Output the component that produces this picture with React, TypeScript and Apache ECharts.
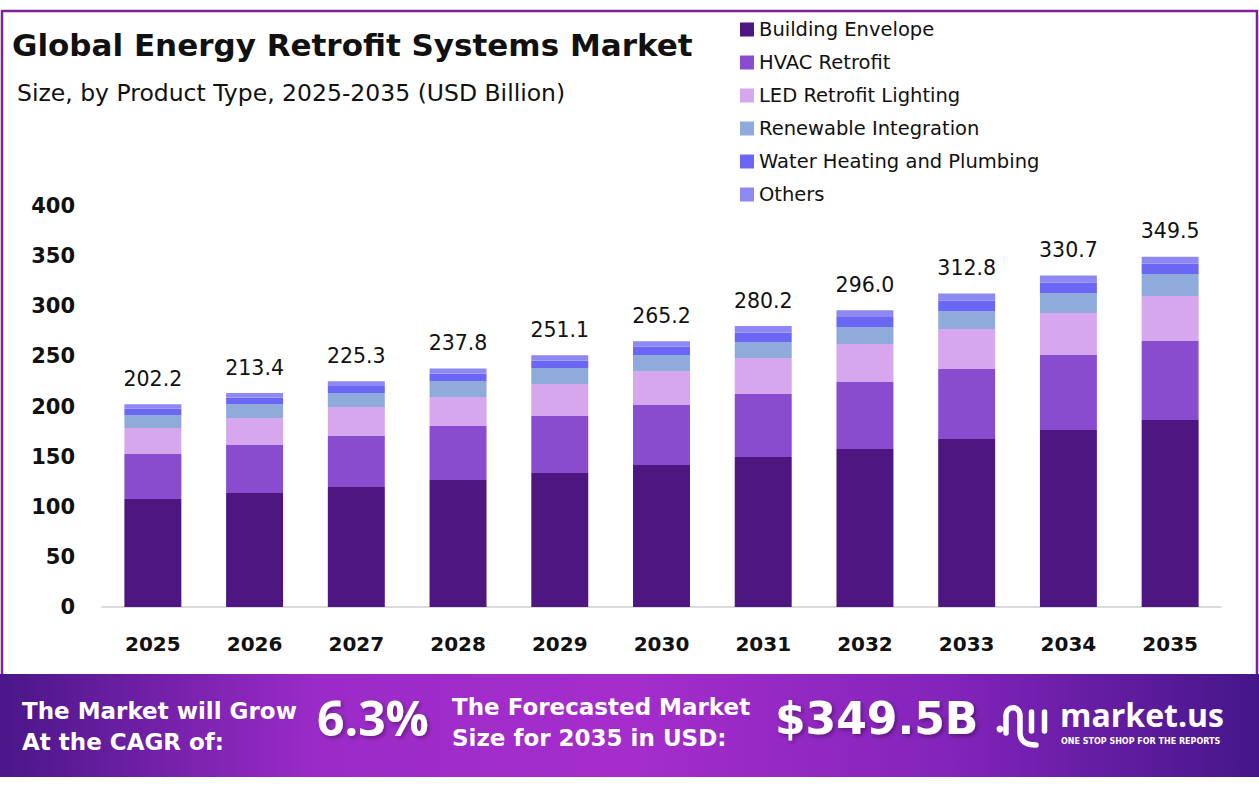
import React, { useEffect, useRef } from "react";
import * as echarts from "echarts";

const years = ["2025", "2026", "2027", "2028", "2029", "2030", "2031", "2032", "2033", "2034", "2035"];
const buildingEnvelope = [107.7, 113.7, 119.7, 126.7, 133.7, 141.6, 149.6, 157.6, 167.6, 176.6, 186.5];
const hvacRetrofit = [44.9, 47.9, 50.9, 53.8, 56.8, 59.9, 62.9, 66.8, 69.8, 74.8, 78.8];
const ledLighting = [26.0, 26.9, 28.9, 29.0, 31.9, 33.9, 35.9, 37.9, 39.9, 41.9, 44.9];
const renewableIntegration = [12.9, 14.0, 14.0, 15.9, 16.0, 16.0, 15.9, 17.0, 18.0, 19.9, 22.0];
const waterHeating = [6.4, 6.5, 7.0, 7.4, 7.6, 8.3, 9.5, 10.0, 10.5, 10.5, 10.3];
const others = [4.3, 4.4, 4.8, 5.0, 5.1, 5.5, 6.4, 6.7, 7.0, 7.0, 7.0];
const totals = [202.2, 213.4, 225.3, 237.8, 251.1, 265.2, 280.2, 296.0, 312.8, 330.7, 349.5];

const seriesNames = [
  "Building Envelope",
  "HVAC Retrofit",
  "LED Retrofit Lighting",
  "Renewable Integration",
  "Water Heating and Plumbing",
  "Others",
];
const seriesData = [buildingEnvelope, hvacRetrofit, ledLighting, renewableIntegration, waterHeating, others];
const colors = ["#4e1681", "#8a4ccf", "#d6a7ec", "#8fabdc", "#6c66f4", "#8e89f2"];

const cagrText = "6.3%";
const forecastText = "$349.5B";

const OPEN = "'Open Sans', sans-serif";
const DEJA = "'DejaVu Sans', sans-serif";

echarts.graphic.registerShape(
  "mlogo",
  echarts.graphic.extendPath(
    "M 0 0 L 0 -17 C 0 -28 14 -28 14 -17 L 14 0 C 14 8 20 12 30 12",
    {}
  )
);

export default function App() {
  const ref = useRef<HTMLDivElement>(null);

  useEffect(() => {
    if (!ref.current) return;
    const chart = echarts.init(ref.current, null, { renderer: "svg" });

    const series: any[] = seriesData.map((d, i) => ({
      name: seriesNames[i],
      type: "bar",
      stack: "total",
      data: d,
      barWidth: "56%",
      itemStyle: { color: colors[i] },
      emphasis: { disabled: true },
      label:
        i === seriesData.length - 1
          ? {
              show: true,
              position: "top",
              distance: 15,
              fontFamily: DEJA,
              fontSize: 20.5,
              color: "#111",
              formatter: (p: any) => totals[p.dataIndex].toFixed(1),
            }
          : { show: false },
    }));

    chart.setOption({
      animation: false,
      backgroundColor: "#ffffff",
      legend: {
        orient: "vertical",
        left: 740,
        top: 19,
        padding: 0,
        itemWidth: 14,
        itemHeight: 14,
        itemGap: 12,
        icon: "rect",
        data: seriesNames,
        textStyle: { fontFamily: DEJA, fontSize: 19.5, color: "#111", lineHeight: 21 },
      },
      grid: { left: 102, right: 38, top: 206, bottom: 180 },
      xAxis: {
        type: "category",
        data: years,
        axisTick: { show: false },
        axisLine: { lineStyle: { color: "#cfcfcf", width: 1.5 } },
        axisLabel: { fontFamily: DEJA, fontWeight: "bold", fontSize: 20, color: "#111", margin: 27 },
      },
      yAxis: {
        type: "value",
        min: 0,
        max: 400,
        interval: 50,
        splitLine: { show: false },
        axisLine: { show: false },
        axisTick: { show: false },
        axisLabel: { fontFamily: DEJA, fontWeight: "bold", fontSize: 21, color: "#111", margin: 27 },
      },
      series,
      graphic: [
        {
          type: "polyline",
          shape: { points: [[2, 674], [2, 11], [1257, 11], [1257, 674]] },
          style: { stroke: "#7b2296", lineWidth: 2.5, fill: "none" },
          silent: true,
        },
        {
          type: "text",
          left: 12,
          top: 29,
          style: {
            text: "Global Energy Retrofit Systems Market",
            fontFamily: DEJA,
            fontWeight: "bold",
            fontSize: 31,
            fill: "#111",
          },
        },
        {
          type: "text",
          left: 17,
          top: 81,
          style: {
            text: "Size, by Product Type, 2025-2035 (USD Billion)",
            fontFamily: DEJA,
            fontSize: 23.5,
            fill: "#111",
          },
        },
        {
          type: "rect",
          shape: { x: 0, y: 674, width: 1259, height: 103 },
          style: {
            fill: new echarts.graphic.LinearGradient(0, 0, 1, 0, [
              { offset: 0, color: "#4a1688" },
              { offset: 0.25, color: "#9b2bc8" },
              { offset: 0.5, color: "#a52dcc" },
              { offset: 0.75, color: "#8424bb" },
              { offset: 1, color: "#45168a" },
            ]),
          },
          silent: true,
        },
        {
          type: "text",
          left: 22,
          top: 695,
          style: {
            text: "The Market will Grow\nAt the CAGR of:",
            fontFamily: DEJA,
            fontWeight: "bold",
            fontSize: 23,
            lineHeight: 31,
            fill: "#ffffff",
          },
        },
        {
          type: "text",
          left: 317,
          top: 693,
          style: {
            text: cagrText,
            fontFamily: OPEN,
            fontWeight: "bold",
            fontSize: 48,
            fill: "#ffffff",
            textShadowColor: "rgba(0,0,0,0.35)",
            textShadowBlur: 4,
            textShadowOffsetX: 2,
            textShadowOffsetY: 2,
          },
        },
        {
          type: "text",
          left: 452,
          top: 691,
          style: {
            text: "The Forecasted Market\nSize for 2035 in USD:",
            fontFamily: DEJA,
            fontWeight: "bold",
            fontSize: 23,
            lineHeight: 31,
            fill: "#ffffff",
          },
        },
        {
          type: "text",
          left: 775,
          top: 696,
          style: {
            text: forecastText,
            fontFamily: DEJA,
            fontWeight: "bold",
            fontSize: 44,
            fill: "#ffffff",
            textShadowColor: "rgba(0,0,0,0.35)",
            textShadowBlur: 4,
            textShadowOffsetX: 2,
            textShadowOffsetY: 2,
          },
        },
        { type: "circle", shape: { cx: 1000, cy: 729, r: 3.5 }, style: { fill: "#ffffff" }, silent: true },
        {
          type: "mlogo",
          x: 1006,
          y: 733,
          style: { stroke: "#ffffff", lineWidth: 5.5, fill: "none", lineCap: "round" },
          silent: true,
        },
        {
          type: "line",
          shape: { x1: 1031.5, y1: 712, x2: 1031.5, y2: 731 },
          style: { stroke: "#ffffff", lineWidth: 5.5, lineCap: "round" },
          silent: true,
        },
        {
          type: "line",
          shape: { x1: 1044.5, y1: 712, x2: 1044.5, y2: 731 },
          style: { stroke: "#ffffff", lineWidth: 5.5, lineCap: "round" },
          silent: true,
        },
        {
          type: "text",
          left: 1060,
          top: 697,
          style: {
            text: "market.us",
            fontFamily: OPEN,
            fontWeight: "bold",
            fontSize: 32,
            lineHeight: 34,
            fill: "#ffffff",
          },
        },
        {
          type: "text",
          left: 1061,
          top: 737,
          style: {
            text: "ONE STOP SHOP FOR THE REPORTS",
            fontFamily: DEJA,
            fontWeight: "bold",
            fontSize: 8,
            lineHeight: 8,
            fill: "#ffffff",
          },
        },
      ],
    });

    return () => chart.dispose();
  }, []);

  return (
    <div
      ref={ref}
      style={{ position: "fixed", left: 0, top: 0, width: 1259, height: 787 }}
    />
  );
}
